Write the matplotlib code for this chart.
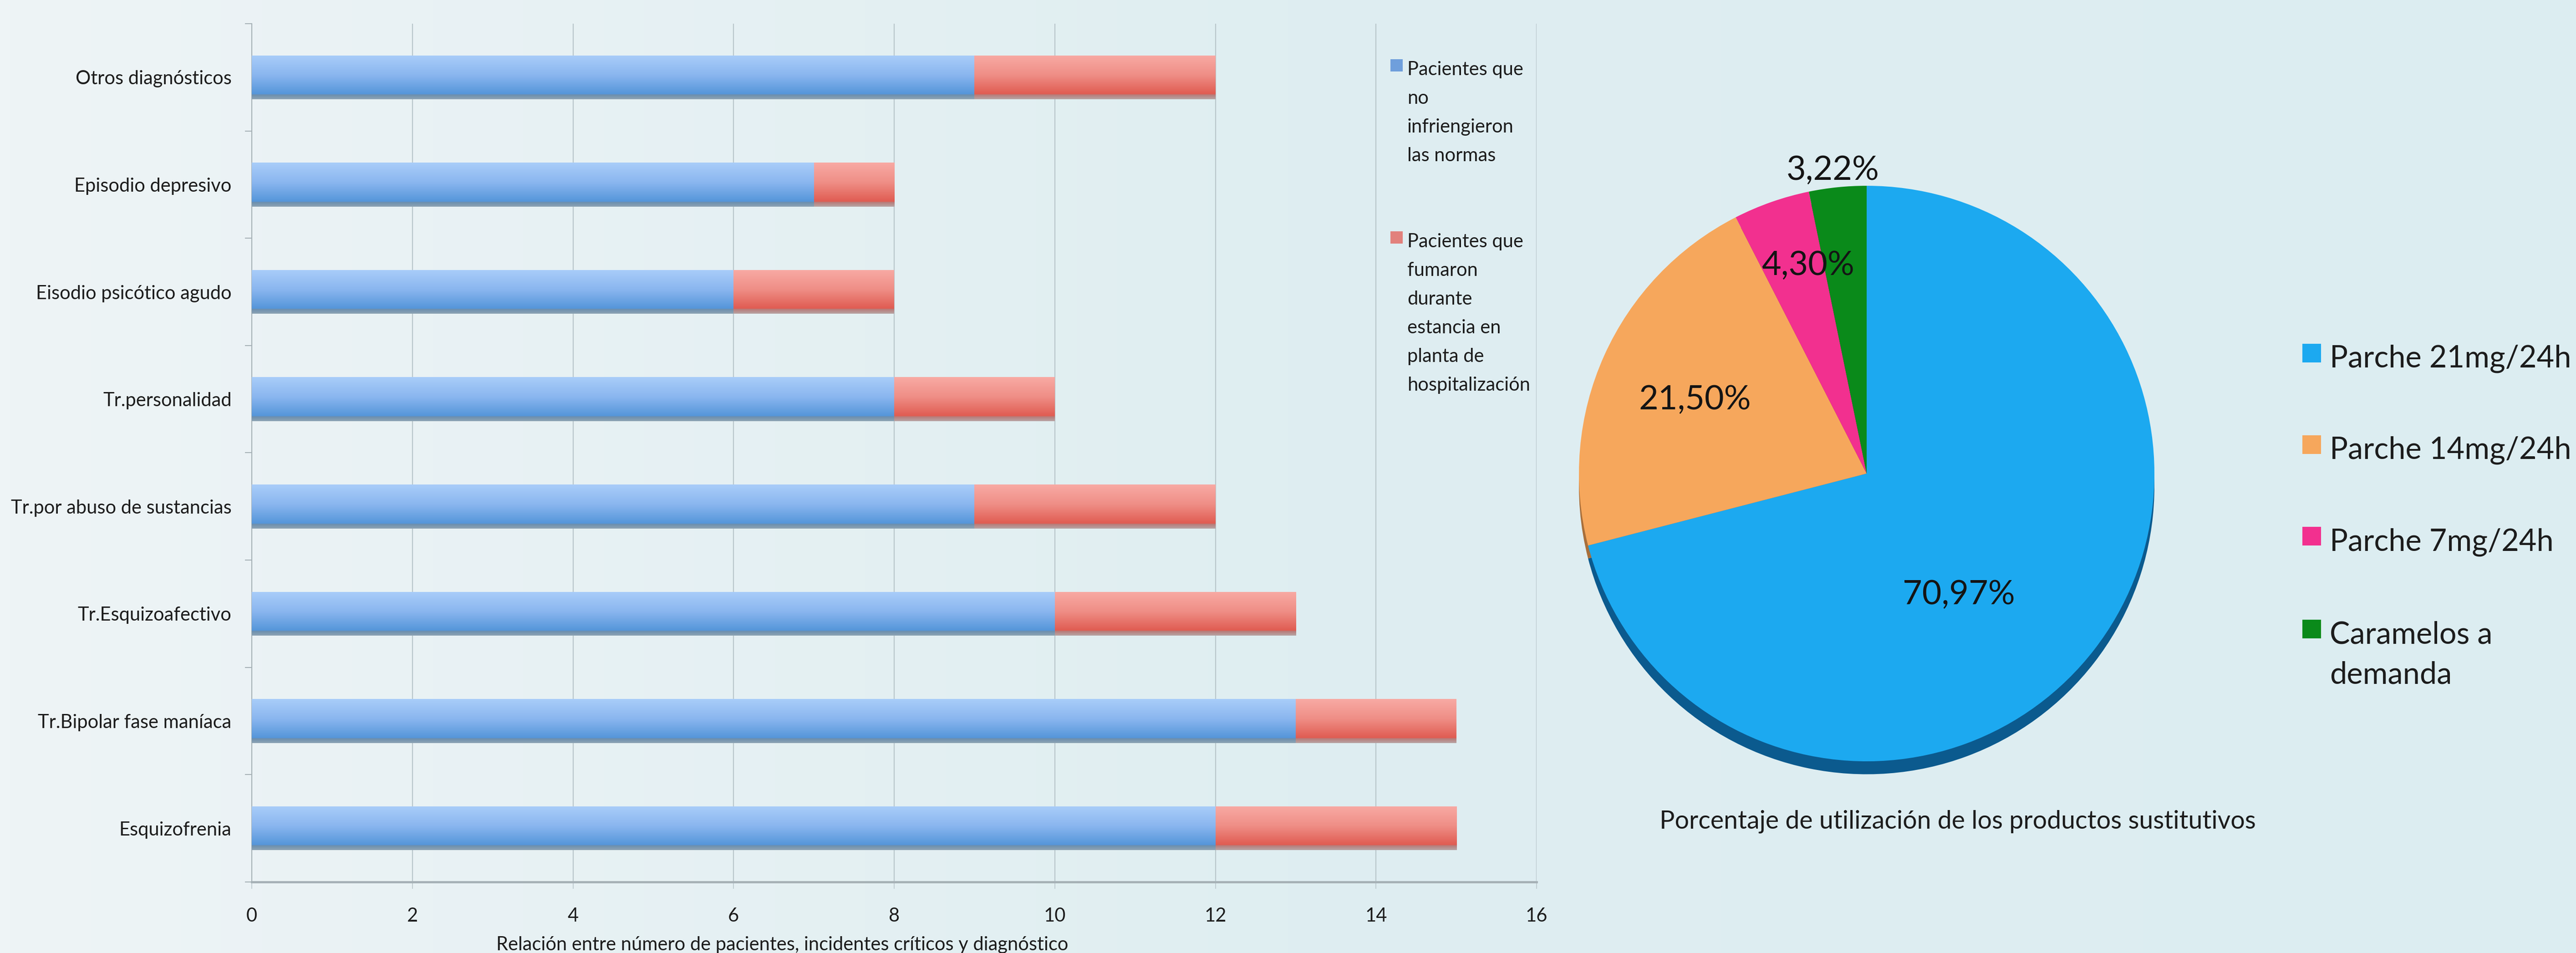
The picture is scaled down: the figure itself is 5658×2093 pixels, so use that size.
import matplotlib
matplotlib.use("Agg")
import matplotlib.pyplot as plt
import numpy as np
from matplotlib.colors import LinearSegmentedColormap
from matplotlib.patches import Rectangle

plt.rcParams['font.family'] = ['Lato', 'DejaVu Sans']

# Datos del gráfico de barras (de arriba a abajo)
diagnosticos = ["Otros diagnósticos", "Episodio depresivo", "Eisodio psicótico agudo",
                "Tr.personalidad", "Tr.por abuso de sustancias", "Tr.Esquizoafectivo",
                "Tr.Bipolar fase maníaca", "Esquizofrenia"]
no_infringieron = [9, 7, 6, 8, 9, 10, 13, 12]
fumaron = [3, 1, 2, 2, 3, 3, 2, 3]
series = ["Pacientes que\nno\ninfriengieron\nlas normas",
          "Pacientes que\nfumaron\ndurante\nestancia en\nplanta de\nhospitalización"]
x_ticks = [0, 2, 4, 6, 8, 10, 12, 14, 16]
titulo_barras = "Relación entre número de pacientes, incidentes críticos y diagnóstico"

# Datos del gráfico circular
productos = ["Parche 21mg/24h", "Parche 14mg/24h", "Parche 7mg/24h", "Caramelos a\ndemanda"]
porcentajes = [70.97, 21.50, 4.30, 3.22]
etiquetas_pct = ["70,97%", "21,50%", "4,30%", "3,22%"]
titulo_pie = "Porcentaje de utilización de los productos sustitutivos"

W, H = 5658, 2093
TXT = "#1c1c1c"
FS = 30


def fx(px):
    return px / W


def fy(py):
    return 1 - py / H


def texto_lineas(x, base, label, pitch, **kw):
    # una línea por texto, con la línea base de cada una en píxeles
    for i, linea in enumerate(label.split("\n")):
        fig.text(fx(x), fy(base + i * pitch), linea, ha="left", va="baseline", **kw)


fig = plt.figure(figsize=(W / 100, H / 100), dpi=100)

# Fondo degradado
bg = fig.add_axes([0, 0, 1, 1], zorder=-10)
fondo = LinearSegmentedColormap.from_list("fondo", ["#eef4f6", "#dfeef1", "#dcedf1"])
bg.imshow(np.linspace(0, 1, 512).reshape(1, -1), cmap=fondo, aspect="auto", extent=(0, 1, 0, 1))
bg.axis("off")

# ---- Barras ----
ax = fig.add_axes([fx(553), fy(1937), fx(3375) - fx(553), (1937 - 52) / H])
ax.patch.set_alpha(0)
n = len(diagnosticos)
y = np.arange(n)[::-1]
alto = 0.41

azul = ax.barh(y, no_infringieron, height=alto, color="#6fa3e3", zorder=3)
rojo = ax.barh(y, fumaron, left=no_infringieron, height=alto, color="#ea7f78", zorder=3)


def gradiente(bars, stops):
    cmap = LinearSegmentedColormap.from_list("g", stops)
    grad = np.linspace(0, 1, 256).reshape(-1, 1)
    for b in bars:
        x0, y0 = b.get_x(), b.get_y()
        im = ax.imshow(grad, cmap=cmap, aspect="auto", origin="upper", zorder=4,
                       extent=(x0, x0 + b.get_width(), y0, y0 + b.get_height()))
        im.set_clip_path(b)


gradiente(azul, [(0, "#a9cdf9"), (0.45, "#8ab6ef"), (0.88, "#5596da"), (0.9, "#6c8fae"), (1, "#8ea4b4")])
gradiente(rojo, [(0, "#f8aaa4"), (0.45, "#ef8e86"), (0.88, "#e05c52"), (0.9, "#b77c7a"), (1, "#b8a4a4")])

ax.set_xlim(0, 16)
ax.set_ylim(-0.5, n - 0.5)
ax.set_xticks(x_ticks)
ax.set_xticklabels([str(t) for t in x_ticks])
ax.set_yticks(y)
ax.set_yticklabels(diagnosticos)
ax.set_yticks(np.arange(-0.5, n, 1), minor=True)
ax.grid(axis="x", color="#b9c6cb", lw=1.6, zorder=0)
ax.set_axisbelow(True)
for s in ["top", "right"]:
    ax.spines[s].set_visible(False)
ax.spines["left"].set_color("#a6b1b6")
ax.spines["left"].set_linewidth(1.5)
ax.spines["bottom"].set_color("#a6b1b6")
ax.spines["bottom"].set_linewidth(3.5)
ax.tick_params(axis="x", length=11, width=1.2, color="#b9c6cb", pad=29, labelsize=FS, labelcolor=TXT)
ax.tick_params(axis="y", which="major", length=0, pad=32, labelsize=FS, labelcolor=TXT)
ax.tick_params(axis="y", which="minor", length=11, width=1.5, color="#a6b1b6")

fig.text(fx(1718), fy(2075), titulo_barras, ha="center", va="center", fontsize=FS, color=TXT)

# Leyenda de barras
for lab, col, base in zip(series, ["#6f9fdc", "#e2817c"], [165, 543]):
    fig.add_artist(Rectangle((fx(3054), fy(base - 8)), 27 / W, 27 / H,
                             transform=fig.transFigure, facecolor=col, edgecolor="none"))
    texto_lineas(3091, base, lab, 63, fontsize=FS, color=TXT)

# ---- Circular ----
R = 632
cx, cy = 4100, 1040
ax2 = fig.add_axes([fx(cx - R), fy(cy + R), 2 * R / W, 2 * R / H])
colores = ["#1ca9f0", "#f6a75c", "#f2308f", "#0a8a1a"]
sombra = ["#0b5a8e", "#a86f3b", "#9a1e5c", "#05561a"]
ax2.pie(porcentajes, colors=sombra, startangle=90, counterclock=False,
        center=(0, -0.045), radius=1.0)
ax2.pie(porcentajes, colors=colores, startangle=90, counterclock=False, radius=1.0)
ax2.set_xlim(-1, 1)
ax2.set_ylim(-1, 1)
ax2.axis("off")

dist = [0.53, 0.65, 0.75, 1.06]
ajuste = [-15, 1, -3.5, 0.6]
total = sum(porcentajes)
acum = 0
for v, txt, d, a in zip(porcentajes, etiquetas_pct, dist, ajuste):
    ang = np.deg2rad(90 - 360 * (acum + v / 2) / total + a)
    acum += v
    ax2.text(d * np.cos(ang), d * np.sin(ang), txt, ha="center", va="center",
             fontsize=53, color="#141414", clip_on=False)

fig.text(fx(4300), fy(1804), titulo_pie, ha="center", va="center", fontsize=40, color=TXT)

# Leyenda del circular
for lab, col, base in zip(productos, colores, [807, 1008, 1209, 1413]):
    fig.add_artist(Rectangle((fx(5057), fy(base - 11)), 41 / W, 41 / H,
                             transform=fig.transFigure, facecolor=col, edgecolor="none"))
    texto_lineas(5117, base, lab, 89, fontsize=48, color=TXT)

fig.savefig("out.png", dpi=100)
